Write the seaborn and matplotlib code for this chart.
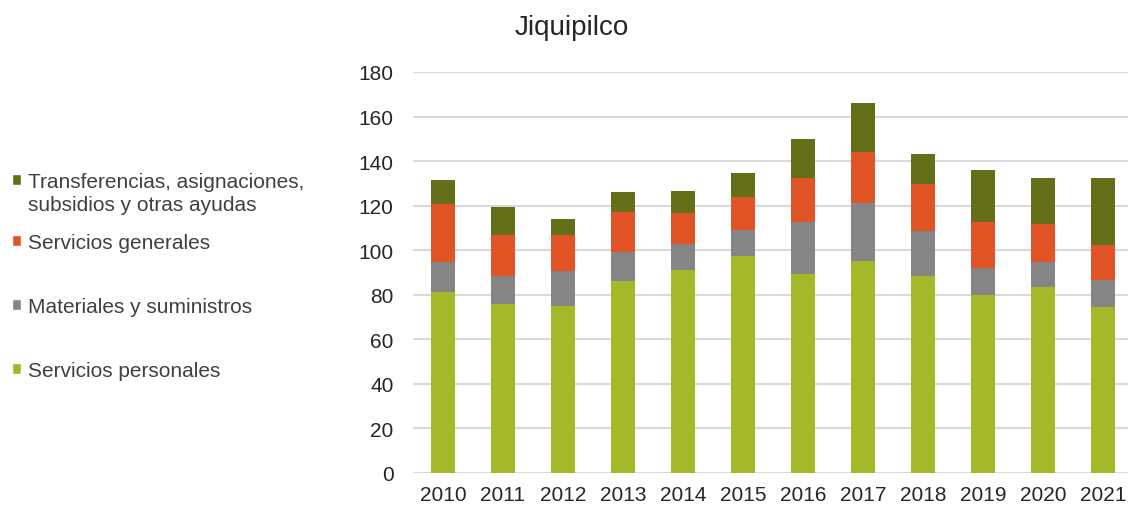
import pandas as pd
import matplotlib.pyplot as plt
import seaborn as sns
from matplotlib.patches import Patch

# ------------------------------
# Data
# ------------------------------
years = ['2010', '2011', '2012', '2013', '2014', '2015',
         '2016', '2017', '2018', '2019', '2020', '2021']
servicios_personales = [81.1, 75.9, 75.1, 86.0, 91.3, 97.5, 89.3, 95.3, 88.3, 79.9, 83.6, 74.7]
materiales_suministros = [13.5, 12.7, 15.4, 13.0, 11.3, 11.7, 23.5, 25.7, 20.3, 12.1, 11.0, 11.9]
servicios_generales = [26.1, 18.2, 16.5, 18.0, 13.9, 14.8, 19.5, 22.9, 21.1, 20.8, 17.3, 15.7]
transferencias = [10.9, 12.4, 7.2, 9.0, 10.1, 10.6, 17.6, 22.3, 13.3, 23.1, 20.4, 30.1]

labels = ['Servicios personales', 'Materiales y suministros',
          'Servicios generales', 'Transferencias, asignaciones,']
label_extra = 'subsidios y otras ayudas'
colors = ['#A5B82A', '#858585', '#E05426', '#656E18']

df = pd.DataFrame({
    'year': years,
    'personales': servicios_personales,
    'materiales': materiales_suministros,
    'generales': servicios_generales,
    'transferencias': transferencias,
})
cols = ['personales', 'materiales', 'generales', 'transferencias']
cum = df[cols].cumsum(axis=1)

# ------------------------------
# Plot
# ------------------------------
sns.set_theme(style="white")
plt.rcParams['font.family'] = ['Liberation Sans', 'DejaVu Sans']

fig = plt.figure(figsize=(11.28, 5.1), dpi=100)
ax = fig.add_axes([413 / 1128, 36 / 510, 715 / 1128, 401 / 510])

# stacked bars: draw the running totals from the top layer down
for col, color in reversed(list(zip(cols, colors))):
    sns.barplot(x=df['year'], y=cum[col], color=color, saturation=1,
                width=0.4, ax=ax, zorder=2, linewidth=0)

ax.set_xlim(-0.5, 11.42)
ax.set_ylim(0, 180)
ax.set_yticks(range(0, 181, 20))
ax.yaxis.grid(True, color='#D9D9D9', linewidth=1.5)
ax.set_axisbelow(True)
for s in ax.spines.values():
    s.set_visible(False)
ax.set_xlabel("")
ax.set_ylabel("")
ax.tick_params(axis='y', length=0, pad=14, labelsize=15, labelcolor='#262626')
ax.tick_params(axis='x', length=0, pad=9, labelsize=15, labelcolor='#262626')

fig.text(572 / 1128, 1 - 28 / 510, "Jiquipilco", ha='center', va='center',
         fontsize=20, color='#262626')

# legend: top entry on its own (it wraps onto a second line), the rest below
leg_kw = dict(loc='upper left', frameon=False, borderpad=0, borderaxespad=0,
              handlelength=0.45, handleheight=0.45, handletextpad=0.3,
              labelspacing=2.15, fontsize=15, labelcolor='#404040')
handles = [Patch(facecolor=c) for c in colors]
leg1 = fig.legend([handles[3]], [labels[3]],
                  bbox_to_anchor=(12 / 1128, 1 - 173 / 510), **leg_kw)
leg2 = fig.legend(handles[2::-1], labels[2::-1],
                  bbox_to_anchor=(12 / 1128, 1 - 234 / 510), **leg_kw)

fig.canvas.draw()
bb = leg1.get_texts()[0].get_window_extent()
fig.text(bb.x0 / fig.bbox.width, (bb.y0 - 23 + bb.height / 2) / fig.bbox.height,
         label_extra, ha='left', va='center', fontsize=15, color='#404040')

plt.savefig("out.png", dpi=100)
plt.close()
